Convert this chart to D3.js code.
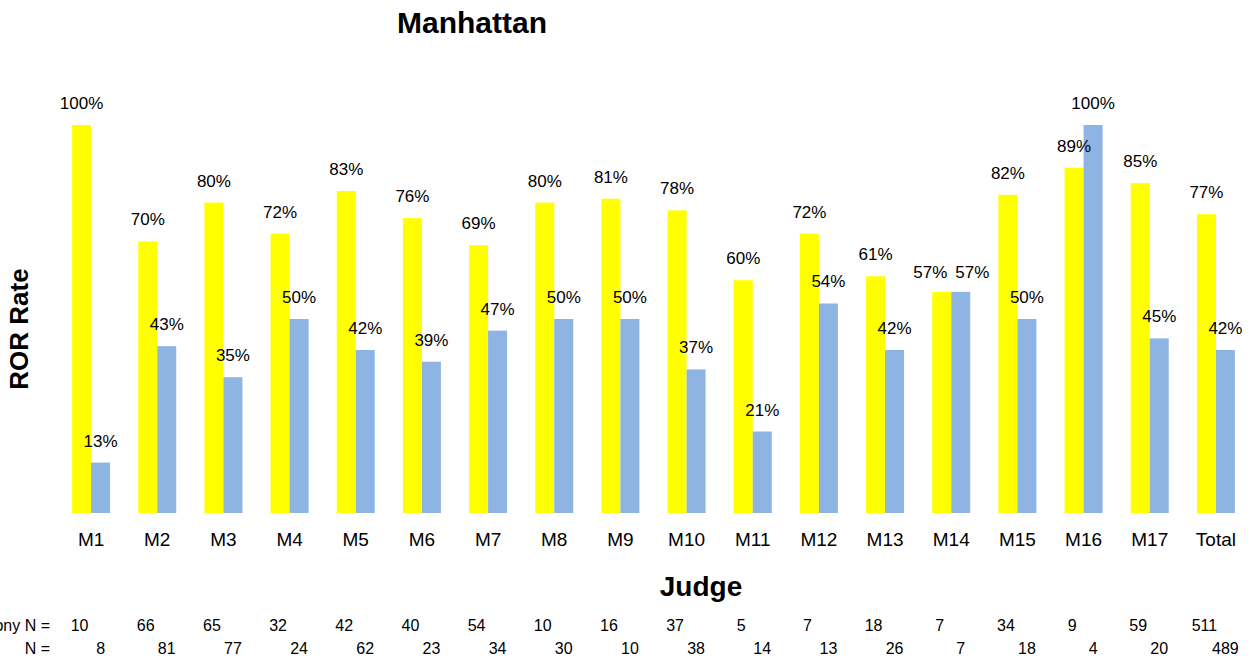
<!DOCTYPE html>
<html>
<head>
<meta charset="utf-8">
<script src="https://cdn.jsdelivr.net/npm/d3@7"></script>
<style>
  body { margin: 0; background: #fff; }
  svg { display: block; font-family: "Liberation Sans", Arial, sans-serif; }
</style>
</head>
<body>
<svg id="chart" width="1254" height="662"></svg>
<script>
const judges = ['M1','M2','M3','M4','M5','M6','M7','M8','M9','M10','M11','M12','M13','M14','M15','M16','M17','Total'];
const felonyRate = [100,70,80,72,83,76,69,80,81,78,60,72,61,57,82,89,85,77];
const otherRate  = [13,43,35,50,42,39,47,50,50,37,21,54,42,57,50,100,45,42];
const felonyN = [10,66,65,32,42,40,54,10,16,37,5,7,18,7,34,9,59,511];
const otherN  = [8,81,77,24,62,23,34,30,10,38,14,13,26,7,18,4,20,489];
const seriesKeys = ['felony', 'other'];
const colors = { felony: '#ffff00', other: '#8eb4e3' };

const rows = judges.map((j, i) => ({
  judge: j,
  felony: felonyRate[i], other: otherRate[i],
  felonyN: felonyN[i], otherN: otherN[i]
}));

const svg = d3.select('#chart');

const x = d3.scaleBand()
  .domain(judges)
  .range([58, 1249])
  .paddingInner(0.426)
  .paddingOuter(0.213);

const x1 = d3.scaleBand()
  .domain(seriesKeys)
  .range([0, x.bandwidth()]);

const y = d3.scaleLinear()
  .domain([0, 100])
  .range([513, 125]);

const labelSize = 17;

// title
svg.append('text')
  .attr('x', 472).attr('y', 33)
  .attr('text-anchor', 'middle')
  .attr('font-size', 30).attr('font-weight', 'bold')
  .text('Manhattan');

// bars
const groups = svg.append('g').selectAll('g')
  .data(rows)
  .join('g')
  .attr('transform', d => `translate(${x(d.judge)},0)`);

groups.selectAll('rect')
  .data(d => seriesKeys.map(k => ({ key: k, value: d[k] })))
  .join('rect')
  .attr('x', d => x1(d.key))
  .attr('y', d => y(d.value))
  .attr('width', x1.bandwidth())
  .attr('height', d => y(0) - y(d.value))
  .attr('fill', d => colors[d.key]);

// value labels; when both labels in a group sit at the same height, push them apart
groups.each(function (d) {
  const g = d3.select(this);
  const clash = Math.abs(y(d.felony) - y(d.other)) < labelSize;
  seriesKeys.forEach((k, i) => {
    const t = g.append('text')
      .attr('x', x1(k) + x1.bandwidth() / 2)
      .attr('y', y(d[k]) - (clash ? 14 : 16))
      .attr('text-anchor', 'middle')
      .attr('font-size', labelSize)
      .text(d[k] + '%');
    if (clash) {
      const w = t.node().getComputedTextLength();
      const shift = Math.max(0, (w + 8 - x1.bandwidth()) / 2);
      t.attr('dx', i === 0 ? -shift : shift);
    }
  });
});

// x axis labels
const xAxis = svg.append('g')
  .attr('transform', `translate(0,${y(0)})`)
  .call(d3.axisBottom(x).tickSize(0).tickPadding(20));
xAxis.select('.domain').remove();
xAxis.selectAll('text')
  .attr('font-size', 19)
  .attr('font-family', '"Liberation Sans", Arial, sans-serif')
  .attr('fill', '#000');

svg.append('text')
  .attr('x', 701).attr('y', 596)
  .attr('text-anchor', 'middle')
  .attr('font-size', 28).attr('font-weight', 'bold')
  .text('Judge');

svg.append('text')
  .attr('transform', 'translate(28,329) rotate(-90)')
  .attr('text-anchor', 'middle')
  .attr('font-size', 26).attr('font-weight', 'bold')
  .text('ROR Rate');

// N rows
svg.append('text')
  .attr('x', 50).attr('y', 631)
  .attr('text-anchor', 'end').attr('font-size', 16)
  .text('Felony N =');
svg.append('text')
  .attr('x', 50).attr('y', 654)
  .attr('text-anchor', 'end').attr('font-size', 16)
  .text('N =');

svg.append('g').selectAll('text')
  .data(rows)
  .join('text')
  .attr('x', d => x(d.judge) + x1('felony') + x1.bandwidth() / 2 - 2)
  .attr('y', 631)
  .attr('text-anchor', 'middle').attr('font-size', 16)
  .text(d => d.felonyN);

svg.append('g').selectAll('text')
  .data(rows)
  .join('text')
  .attr('x', d => x(d.judge) + x1('other') + x1.bandwidth() / 2)
  .attr('y', 654)
  .attr('text-anchor', 'middle').attr('font-size', 16)
  .text(d => d.otherN);
</script>
</body>
</html>
